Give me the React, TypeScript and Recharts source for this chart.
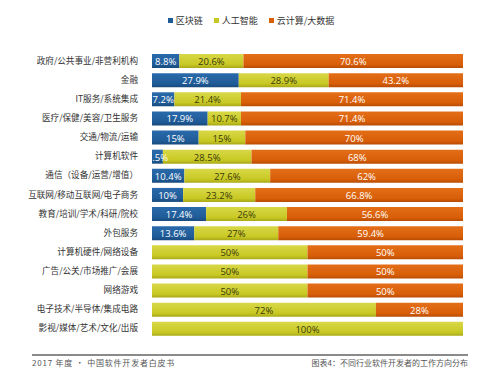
import * as React from "react";
import { BarChart, Bar, XAxis, YAxis, Legend, LabelList } from "recharts";

// ─── Data ─────────────────────────────────────────────────────────────────────
const industries = [
  "政府/公共事业/非营利机构",
  "金融",
  "IT服务/系统集成",
  "医疗/保健/美容/卫生服务",
  "交通/物流/运输",
  "计算机软件",
  "通信（设备/运营/增值）",
  "互联网/移动互联网/电子商务",
  "教育/培训/学术/科研/院校",
  "外包服务",
  "计算机硬件/网络设备",
  "广告/公关/市场推广/会展",
  "网络游戏",
  "电子技术/半导体/集成电路",
  "影视/媒体/艺术/文化/出版",
];
const blockchain = [8.8, 27.9, 7.2, 17.9, 15, 3.5, 10.4, 10, 17.4, 13.6, 0, 0, 0, 0, 0];
const ai = [20.6, 28.9, 21.4, 10.7, 15, 28.5, 27.6, 23.2, 26, 27, 50, 50, 50, 72, 100];
const cloud = [70.6, 43.2, 71.4, 71.4, 70, 68, 62, 66.8, 56.6, 59.4, 50, 50, 50, 28, 0];

const seriesNames = ["区块链", "人工智能", "云计算/大数据"];
const footerLeft = "2017 年度 · 中国软件开发者白皮书";
const footerRight = "图表4：不同行业软件开发者的工作方向分布";

// ─── Styles ───────────────────────────────────────────────────────────────────
const COLORS = {
  blue: "#1f5b97",
  yellow: "#c8c824",
  orange: "#d85e08",
  text: "#333333",
  muted: "#555555",
} as const;

const FONT = "'Noto Sans CJK SC', 'Noto Sans', sans-serif";
const LABEL_FONT = "'Open Sans', 'Noto Sans', sans-serif";

const data = industries.map((name, i) => ({
  name,
  blockchain: blockchain[i],
  ai: ai[i],
  cloud: cloud[i],
}));

const SERIES = [
  { key: "blockchain", label: seriesNames[0], color: COLORS.blue, grad: "g-blue", labelColor: "#ffffff" },
  { key: "ai", label: seriesNames[1], color: COLORS.yellow, grad: "g-yellow", labelColor: "#3a3a08" },
  { key: "cloud", label: seriesNames[2], color: COLORS.orange, grad: "g-orange", labelColor: "#ffffff" },
];

function ValueText({ cx, cy, fill, value }: { cx: number; cy: number; fill: string; value: number }) {
  return (
    <text
      x={cx}
      y={cy}
      textAnchor="middle"
      dominantBaseline="central"
      fill={fill}
      fontSize={9.5}
      fontFamily={LABEL_FONT}
    >
      {`${value}%`}
    </text>
  );
}

// Blue labels overflow into the yellow segment (3.5%), so they are drawn
// from the yellow series' label layer, which sits on top of the blue bars.
function AiLabel(props: any) {
  const { x, y, width, height, value, index } = props;
  const bx = Number(x);
  const w = Number(width);
  const cy = Number(y) + Number(height) / 2 + 0.5;
  const bc = blockchain[index] ?? 0;
  const pxPerUnit = value ? w / Number(value) : 0;
  const bw = bc * pxPerUnit;
  return (
    <g>
      {bc > 0 && <ValueText cx={bx - bw / 2} cy={cy} fill="#ffffff" value={bc} />}
      {value ? <ValueText cx={bx + w / 2} cy={cy} fill={SERIES[1].labelColor} value={value} /> : null}
    </g>
  );
}

function CloudLabel(props: any) {
  const { x, y, width, height, value } = props;
  if (!value) return null;
  return (
    <ValueText
      cx={Number(x) + Number(width) / 2}
      cy={Number(y) + Number(height) / 2 + 0.5}
      fill={SERIES[2].labelColor}
      value={value}
    />
  );
}

function TopLegend() {
  return (
    <div
      style={{
        display: "flex",
        justifyContent: "center",
        gap: 11,
        fontFamily: FONT,
        fontSize: 9,
        color: COLORS.text,
        marginLeft: 2,
      }}
    >
      {SERIES.map((s) => (
        <span key={s.key} style={{ display: "flex", alignItems: "center" }}>
          <span style={{ width: 5, height: 5, background: s.color, marginRight: 3, display: "inline-block" }} />
          {s.label}
        </span>
      ))}
    </div>
  );
}

export default function App() {
  return (
    <div style={{ position: "absolute", left: 0, top: 0, width: 500, height: 380, background: "#fff" }}>
      <BarChart
        width={500}
        height={380}
        data={data}
        layout="vertical"
        margin={{ top: 38, right: 37, bottom: 42, left: 0 }}
        barSize={14}
      >
        <defs>
          <linearGradient id="g-blue" x1="0" y1="0" x2="0" y2="1">
            <stop offset="0%" stopColor="#2a6aab" />
            <stop offset="75%" stopColor={COLORS.blue} />
            <stop offset="100%" stopColor="#184a7c" />
          </linearGradient>
          <linearGradient id="g-yellow" x1="0" y1="0" x2="0" y2="1">
            <stop offset="0%" stopColor="#d8d848" />
            <stop offset="75%" stopColor={COLORS.yellow} />
            <stop offset="100%" stopColor="#a8a818" />
          </linearGradient>
          <linearGradient id="g-orange" x1="0" y1="0" x2="0" y2="1">
            <stop offset="0%" stopColor="#e46e18" />
            <stop offset="75%" stopColor={COLORS.orange} />
            <stop offset="100%" stopColor="#b84c04" />
          </linearGradient>
        </defs>
        <XAxis type="number" domain={[0, 100]} hide />
        <YAxis
          type="category"
          dataKey="name"
          width={152}
          axisLine={false}
          tickLine={false}
          tickMargin={8}
          interval={0}
          tick={{ fontSize: 8.6, fill: COLORS.text, fontFamily: FONT }}
        />
        <Legend
          verticalAlign="top"
          wrapperStyle={{ top: 14, left: 0, width: 500 }}
          content={() => <TopLegend />}
        />
        <Bar dataKey="blockchain" name={seriesNames[0]} stackId="a" fill="url(#g-blue)" isAnimationActive={false} />
        <Bar dataKey="ai" name={seriesNames[1]} stackId="a" fill="url(#g-yellow)" isAnimationActive={false}>
          <LabelList dataKey="ai" content={AiLabel} />
        </Bar>
        <Bar dataKey="cloud" name={seriesNames[2]} stackId="a" fill="url(#g-orange)" isAnimationActive={false}>
          <LabelList dataKey="cloud" content={CloudLabel} />
        </Bar>
      </BarChart>
      <div
        style={{
          position: "absolute",
          left: 32,
          top: 354,
          width: 436,
          height: 2,
          background: "#8a8a8a",
        }}
      />
      <div
        style={{
          position: "absolute",
          left: 32,
          top: 357,
          fontFamily: FONT,
          fontSize: 8,
          letterSpacing: 0.8,
          color: COLORS.muted,
          whiteSpace: "nowrap",
        }}
      >
        {footerLeft}
      </div>
      <div
        style={{
          position: "absolute",
          right: 32,
          top: 357,
          fontFamily: FONT,
          fontSize: 8,
          color: COLORS.muted,
          whiteSpace: "nowrap",
        }}
      >
        {footerRight}
      </div>
    </div>
  );
}
